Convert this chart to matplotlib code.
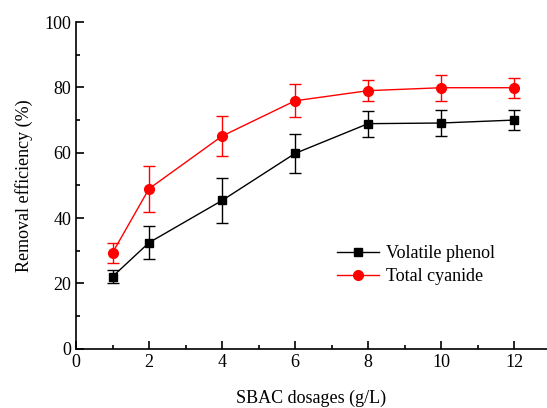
import matplotlib
matplotlib.use('Agg')
from matplotlib import pyplot as plt
from matplotlib.ticker import MultipleLocator
from matplotlib.lines import Line2D

dosage = [1, 2, 4, 6, 8, 10, 12]
phenol = [22.1, 32.5, 45.4, 59.8, 68.9, 69.1, 70.0]
phenol_err = [2.0, 5.0, 7.0, 6.0, 4.0, 4.0, 3.0]
cyanide = [29.4, 49.0, 65.1, 75.9, 79.0, 79.9, 79.9]
cyanide_err = [3.0, 7.0, 6.0, 5.0, 3.3, 4.0, 3.0]

plt.rcParams['font.family'] = ['Liberation Serif', 'DejaVu Serif']
plt.rcParams['font.size'] = 13

fig = plt.figure(figsize=(5.47, 4.08), dpi=100)
ax = fig.add_axes([0.139, 0.145, 0.861, 0.801])

ax.errorbar(dosage, phenol, yerr=phenol_err, color='black', marker='s', ms=6,
            lw=1, elinewidth=1, capsize=4, capthick=1)
ax.errorbar(dosage, cyanide, yerr=cyanide_err, color='red', marker='o', ms=7,
            lw=1, elinewidth=1, capsize=4, capthick=1)

ax.set_xlim(0, 12.9)
ax.set_ylim(0, 100)
ax.xaxis.set_major_locator(MultipleLocator(2))
ax.xaxis.set_minor_locator(MultipleLocator(1))
ax.yaxis.set_major_locator(MultipleLocator(20))
ax.yaxis.set_minor_locator(MultipleLocator(10))
ax.tick_params(which='both', direction='in', width=1.2)
ax.tick_params(which='major', length=6)
ax.tick_params(which='minor', length=3)
for s in ['top', 'right']:
    ax.spines[s].set_visible(False)
for s in ['left', 'bottom']:
    ax.spines[s].set_linewidth(1.2)

ax.set_xlabel('SBAC dosages (g/L)', labelpad=14)
ax.set_ylabel('Removal efficiency (%)', labelpad=8)

handles = [Line2D([], [], color='black', marker='s', ms=6, lw=1),
           Line2D([], [], color='red', marker='o', ms=7, lw=1)]
ax.legend(handles, ['Volatile phenol', 'Total cyanide'], loc='upper left',
          bbox_to_anchor=(0.535, 0.345), frameon=False, borderpad=0,
          handlelength=2.3, handletextpad=0.4, labelspacing=0.35, fontsize=13)

fig.savefig('out.png', dpi=100)
